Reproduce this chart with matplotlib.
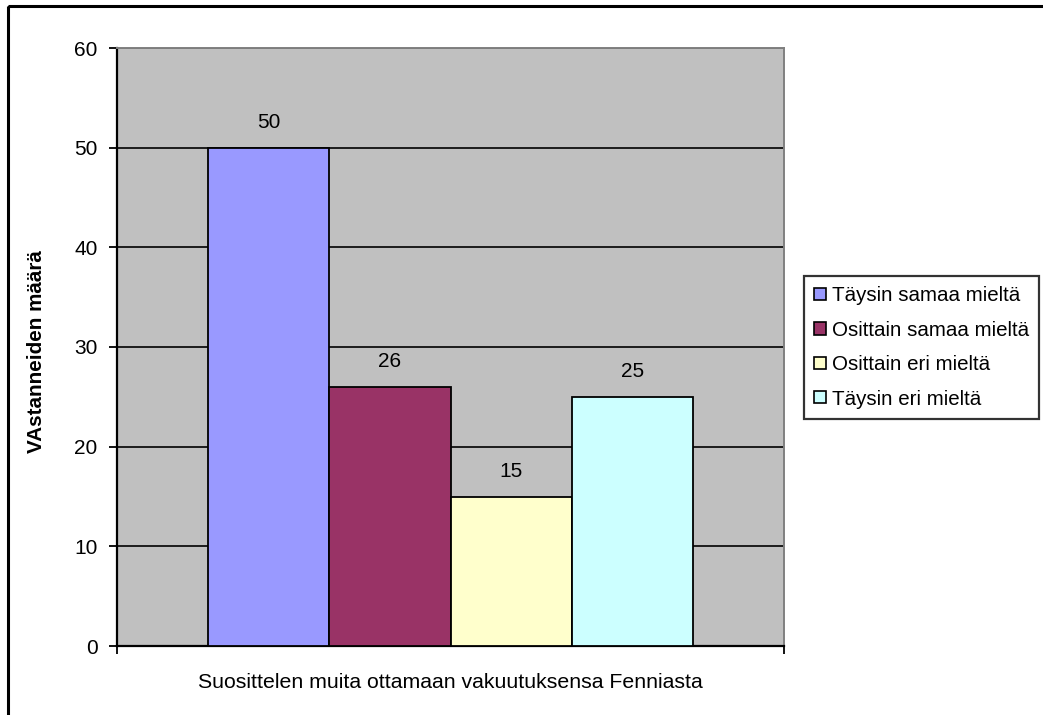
import matplotlib
matplotlib.use("Agg")
import matplotlib.pyplot as plt
from matplotlib.patches import Rectangle, Patch

plt.rcParams['font.family'] = ['Liberation Sans', 'DejaVu Sans']

series = ["Täysin samaa mieltä", "Osittain samaa mieltä", "Osittain eri mieltä", "Täysin eri mieltä"]
values = [50, 26, 15, 25]
colors = ["#9999FF", "#993366", "#FFFFCC", "#CCFFFF"]
category = "Suosittelen muita ottamaan vakuutuksensa Fenniasta"
y_label = "VAstanneiden määrä"
y_ticks = [0, 10, 20, 30, 40, 50, 60]

W, H = 1043, 715
fig = plt.figure(figsize=(W / 100, H / 100), dpi=100)
fig.patch.set_facecolor("white")

# outer chart border
fig.add_artist(Rectangle((8 / W, 1 - 6 / H), 2, -2, transform=fig.transFigure,
                         fill=False, edgecolor="black", linewidth=2.2, clip_on=False))

left, right, top, bottom = 117, 784, 48, 646
ax = fig.add_axes([left / W, 1 - bottom / H, (right - left) / W, (bottom - top) / H])
ax.set_facecolor("#C0C0C0")

# four bars in one category, 150% gap width on the outside
bar_w = 1 / 5.5
start = 1.5 * bar_w / 2
for i, (v, c) in enumerate(zip(values, colors)):
    x = start + (i + 0.5) * bar_w
    ax.bar(x, v, width=bar_w, color=c, edgecolor="black", linewidth=1.3, zorder=3)
    ax.text(x, v + 2.5, str(v), ha="center", va="center", fontsize=15, zorder=4)

ax.set_xlim(0, 1)
ax.set_ylim(0, 60)
ax.set_yticks(y_ticks)
ax.set_yticklabels([str(t) for t in y_ticks], fontsize=15)
ax.yaxis.grid(True, color="black", linewidth=1.2, zorder=1)
ax.set_axisbelow(True)
ax.tick_params(axis="y", length=6, width=1.3, direction="out", pad=8)
ax.set_xticks([0, 1])
ax.set_xticklabels(["", ""])
ax.tick_params(axis="x", length=6, width=1.3, direction="out")

for s in ["left", "bottom"]:
    ax.spines[s].set_color("black")
    ax.spines[s].set_linewidth(1.6)
for s in ["top", "right"]:
    ax.spines[s].set_color("#808080")
    ax.spines[s].set_linewidth(1.4)

fig.text(37 / W, 1 - 352 / H, y_label, rotation=90, ha="center", va="center",
         fontsize=14.9, fontweight="bold")
fig.text(450 / W, 1 - 683 / H, category, ha="center", va="center", fontsize=15.3)

handles = [Patch(facecolor=c, edgecolor="black", linewidth=1.2) for c in colors]
leg = fig.legend(handles, series, loc="upper left",
                 bbox_to_anchor=(804 / W, 1 - 276 / H), fontsize=14.8,
                 frameon=True, fancybox=False, edgecolor="black",
                 handlelength=0.55, handleheight=0.55, handletextpad=0.3,
                 labelspacing=0.75, borderpad=0.5, borderaxespad=0)
leg.get_frame().set_linewidth(1.6)

fig.savefig("out.png", dpi=100, facecolor="white")
